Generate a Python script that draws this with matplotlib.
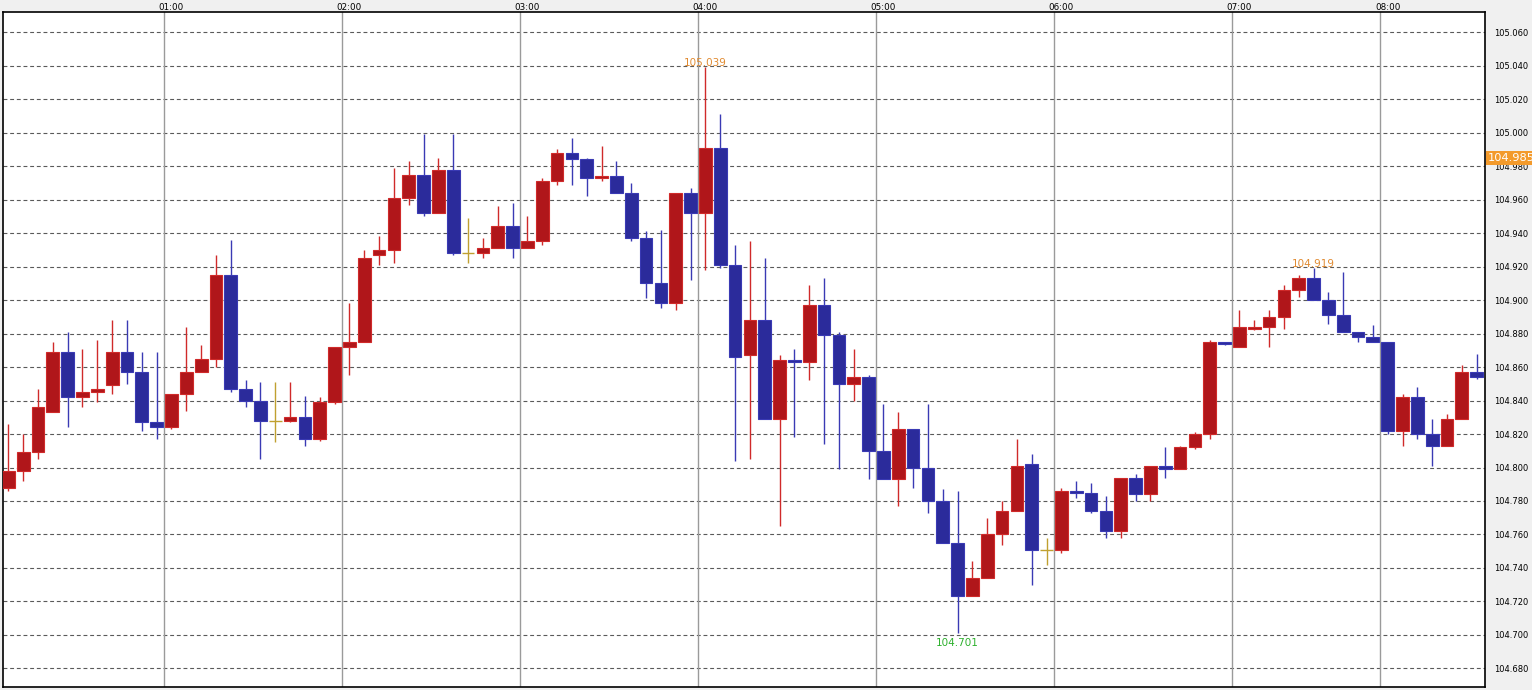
import numpy as np
import matplotlib
matplotlib.use('Agg')
import matplotlib.pyplot as plt
from matplotlib.transforms import blended_transform_factory

# 5 minute candles
opens = [104.788, 104.798, 104.809, 104.833, 104.869, 104.842, 104.845, 104.849, 104.869, 104.857,
         104.827, 104.824, 104.844, 104.857, 104.865, 104.915, 104.847, 104.840, 104.828, 104.828,
         104.830, 104.817, 104.839, 104.872, 104.875, 104.927, 104.930, 104.961, 104.975, 104.952,
         104.978, 104.928, 104.928, 104.931, 104.944, 104.931, 104.935, 104.971, 104.988, 104.984,
         104.973, 104.974, 104.964, 104.937, 104.910, 104.898, 104.964, 104.952, 104.991, 104.921,
         104.867, 104.888, 104.829, 104.864, 104.863, 104.897, 104.879, 104.850, 104.854, 104.810,
         104.793, 104.823, 104.800, 104.780, 104.755, 104.723, 104.734, 104.760, 104.774, 104.802,
         104.751, 104.751, 104.786, 104.785, 104.774, 104.762, 104.794, 104.784, 104.801, 104.799,
         104.812, 104.820, 104.875, 104.872, 104.883, 104.884, 104.890, 104.906, 104.913, 104.900,
         104.891, 104.881, 104.878, 104.875, 104.822, 104.842, 104.820, 104.813, 104.829, 104.857]
highs = [104.826, 104.820, 104.847, 104.875, 104.881, 104.871, 104.876, 104.888, 104.888, 104.869,
         104.869, 104.844, 104.884, 104.873, 104.927, 104.936, 104.852, 104.851, 104.851, 104.851,
         104.843, 104.842, 104.872, 104.898, 104.930, 104.938, 104.979, 104.983, 104.999, 104.985,
         104.999, 104.949, 104.937, 104.956, 104.958, 104.950, 104.973, 104.990, 104.997, 104.985,
         104.992, 104.983, 104.970, 104.941, 104.942, 104.964, 104.967, 105.039, 105.011, 104.933,
         104.935, 104.925, 104.867, 104.871, 104.909, 104.913, 104.881, 104.871, 104.855, 104.838,
         104.833, 104.823, 104.838, 104.787, 104.786, 104.744, 104.770, 104.780, 104.817, 104.808,
         104.758, 104.788, 104.792, 104.791, 104.783, 104.794, 104.796, 104.801, 104.812, 104.813,
         104.821, 104.876, 104.875, 104.894, 104.888, 104.894, 104.909, 104.915, 104.919, 104.905,
         104.917, 104.881, 104.885, 104.875, 104.844, 104.848, 104.829, 104.832, 104.861, 104.868]
lows = [104.786, 104.792, 104.805, 104.833, 104.824, 104.836, 104.839, 104.844, 104.850, 104.822,
        104.817, 104.823, 104.834, 104.857, 104.860, 104.845, 104.836, 104.805, 104.815, 104.827,
        104.813, 104.816, 104.838, 104.855, 104.875, 104.921, 104.922, 104.957, 104.950, 104.952,
        104.927, 104.922, 104.925, 104.931, 104.925, 104.931, 104.933, 104.969, 104.969, 104.962,
        104.971, 104.964, 104.935, 104.901, 104.895, 104.894, 104.912, 104.918, 104.919, 104.804,
        104.805, 104.829, 104.765, 104.818, 104.852, 104.814, 104.799, 104.840, 104.793, 104.793,
        104.777, 104.788, 104.773, 104.755, 104.701, 104.723, 104.734, 104.754, 104.774, 104.730,
        104.742, 104.749, 104.782, 104.773, 104.758, 104.758, 104.780, 104.780, 104.794, 104.799,
        104.811, 104.817, 104.873, 104.872, 104.882, 104.872, 104.883, 104.902, 104.900, 104.886,
        104.881, 104.875, 104.875, 104.820, 104.813, 104.817, 104.801, 104.813, 104.829, 104.853]
closes = [104.798, 104.809, 104.836, 104.869, 104.842, 104.845, 104.847, 104.869, 104.857, 104.827,
          104.824, 104.844, 104.857, 104.865, 104.915, 104.847, 104.840, 104.828, 104.828, 104.830,
          104.817, 104.839, 104.872, 104.875, 104.925, 104.930, 104.961, 104.975, 104.952, 104.978,
          104.928, 104.928, 104.931, 104.944, 104.931, 104.935, 104.971, 104.988, 104.984, 104.973,
          104.974, 104.964, 104.937, 104.910, 104.898, 104.964, 104.952, 104.991, 104.921, 104.866,
          104.888, 104.829, 104.864, 104.863, 104.897, 104.879, 104.850, 104.854, 104.810, 104.793,
          104.823, 104.800, 104.780, 104.755, 104.723, 104.734, 104.760, 104.774, 104.801, 104.751,
          104.751, 104.786, 104.785, 104.774, 104.762, 104.794, 104.784, 104.801, 104.799, 104.812,
          104.820, 104.875, 104.874, 104.884, 104.884, 104.890, 104.906, 104.913, 104.900, 104.891,
          104.881, 104.878, 104.875, 104.822, 104.842, 104.820, 104.813, 104.829, 104.857, 104.854]

# first candle of each hour
hour_labels = ['01:00', '02:00', '03:00', '04:00', '05:00', '06:00', '07:00', '08:00']
hour_start = [11, 23, 35, 47, 59, 71, 83, 93]

price_ticks = np.round(np.arange(104.680, 105.0601, 0.020), 3)
last_price = 104.985

up_body, up_edge = '#b0161a', '#d02a2a'
dn_body, dn_edge = '#2b2b9b', '#3a3ab4'
doji_col = '#c0a030'

o = np.array(opens)
h = np.array(highs)
l = np.array(lows)
c = np.array(closes)
x = np.arange(len(o))

fig = plt.figure(figsize=(15.32, 6.90), dpi=100, facecolor='#f0f0f0')
ax = fig.add_axes([2.7/1532, 3/690, 1482.6/1532, 674.7/690])
ax.set_facecolor('white')

up = c > o
dn = c < o
eq = c == o
width = 0.86

ax.vlines(x[up], l[up], h[up], colors=up_edge, lw=1.0, zorder=3)
ax.vlines(x[dn], l[dn], h[dn], colors=dn_edge, lw=1.0, zorder=3)
ax.vlines(x[eq], l[eq], h[eq], colors=doji_col, lw=1.0, zorder=3)
ax.bar(x[up], c[up] - o[up], bottom=o[up], width=width, color=up_body,
       edgecolor=up_edge, lw=0.8, zorder=4)
ax.bar(x[dn], o[dn] - c[dn], bottom=c[dn], width=width, color=dn_body,
       edgecolor=dn_edge, lw=0.8, zorder=4)
ax.hlines(o[eq], x[eq] - width / 2, x[eq] + width / 2, colors=doji_col, lw=1.0, zorder=4)

ax.set_xlim(-0.378, 99.58)
ax.set_ylim(104.6689, 105.0719)

# grid
for p in price_ticks:
   ax.axhline(p, color='#5a5a5a', lw=0.8, ls=(0, (3.5, 2.5)), zorder=1)
for s in hour_start:
   ax.axvline(s - 0.5, color='#9a9a9a', lw=1.0, zorder=2)

ax.xaxis.tick_top()
ax.set_xticks(hour_start)
ax.set_xticklabels(hour_labels)
ax.tick_params(axis='x', length=0, pad=0.5, labelsize=6.3, colors='#000000')
ax.yaxis.tick_right()
ax.set_yticks(price_ticks)
ax.set_yticklabels(['%.3f' % p for p in price_ticks])
ax.tick_params(axis='y', length=0, pad=6.5, labelsize=6.0, colors='#000000')
for sp in ax.spines.values():
   sp.set_color('black')
   sp.set_linewidth(1.2)

# high / low markers
i_hi = int(np.argmax(h))
i_lo = int(np.argmin(l))
i_hi2 = 88
ax.annotate('%.3f' % h[i_hi], (x[i_hi], h[i_hi]), xytext=(0, 4), textcoords='offset pixels',
            ha='center', va='center', fontsize=7.5, color='#e08a30', zorder=5)
ax.annotate('%.3f' % h[i_hi2], (x[i_hi2], h[i_hi2]), xytext=(0, 4), textcoords='offset pixels',
            ha='center', va='center', fontsize=7.5, color='#e08a30', zorder=5)
ax.annotate('%.3f' % l[i_lo], (x[i_lo], l[i_lo]), xytext=(0, -10), textcoords='offset pixels',
            ha='center', va='center', fontsize=7.5, color='#2db02d', zorder=5)

# current price tag
trans = blended_transform_factory(ax.transAxes, ax.transData)
ax.text(1.0016, last_price, '%.3f' % last_price, transform=trans, ha='left', va='center',
        fontsize=8.2, color='white', clip_on=False, zorder=6,
        bbox=dict(boxstyle='square,pad=0.18', fc='#f39a2b', ec='none'))

fig.savefig('out.png', dpi=100, facecolor=fig.get_facecolor())
